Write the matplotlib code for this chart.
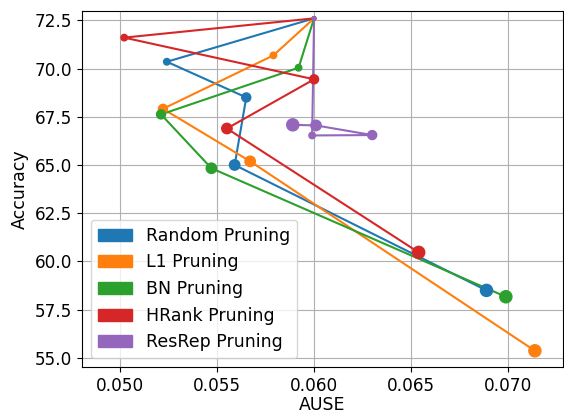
import matplotlib
matplotlib.use("Agg")
import matplotlib.pyplot as plt
from matplotlib.patches import Patch

# AUSE / accuracy per pruning ratio (first point = unpruned model)
methods = ["Random Pruning", "L1 Pruning", "BN Pruning", "HRank Pruning", "ResRep Pruning"]
colors = ["#1f77b4", "#ff7f0e", "#2ca02c", "#d62728", "#9467bd"]

random_ause = [0.0600, 0.0524, 0.0565, 0.0559, 0.0689]
random_acc = [72.6, 70.35, 68.5, 65.0, 58.5]

l1_ause = [0.0600, 0.0579, 0.0522, 0.0567, 0.0714]
l1_acc = [72.6, 70.68, 67.91, 65.19, 55.37]

bn_ause = [0.0600, 0.0592, 0.0521, 0.0547, 0.0699]
bn_acc = [72.6, 70.04, 67.62, 64.83, 58.17]

hrank_ause = [0.0600, 0.0502, 0.0600, 0.0555, 0.0654]
hrank_acc = [72.6, 71.6, 69.44, 66.89, 60.47]

resrep_ause = [0.0600, 0.0599, 0.0630, 0.0601, 0.0589]
resrep_acc = [72.6, 66.53, 66.55, 67.05, 67.08]

series = [
    (random_ause, random_acc),
    (l1_ause, l1_acc),
    (bn_ause, bn_acc),
    (hrank_ause, hrank_acc),
    (resrep_ause, resrep_acc),
]

# marker size grows with pruning ratio
marker_sizes = [6, 22, 42, 56, 76]

plt.rcParams["font.size"] = 12.5
plt.rcParams["xtick.labelsize"] = 12.2
plt.rcParams["ytick.labelsize"] = 12.2

fig = plt.figure(figsize=(5.64, 4.13), dpi=100)
ax = fig.add_axes([82 / 564, 1 - 367 / 413, (563 - 82) / 564, (367 - 11) / 413])

for (xs, ys), c in zip(series, colors):
    ax.plot(xs, ys, color=c, linewidth=1.5)
    ax.scatter(xs, ys, s=marker_sizes, color=c, zorder=3)

ax.set_xlim(0.04802, 0.07285)
ax.set_ylim(54.53, 72.98)
ax.set_xticks([0.050, 0.055, 0.060, 0.065, 0.070])
ax.grid(True)
ax.set_axisbelow(True)
ax.set_xlabel("AUSE", labelpad=1)
ax.set_ylabel("Accuracy")

handles = [Patch(color=c, label=m) for m, c in zip(methods, colors)]
ax.legend(handles=handles, loc="lower left")

fig.savefig("out.png", dpi=100)
